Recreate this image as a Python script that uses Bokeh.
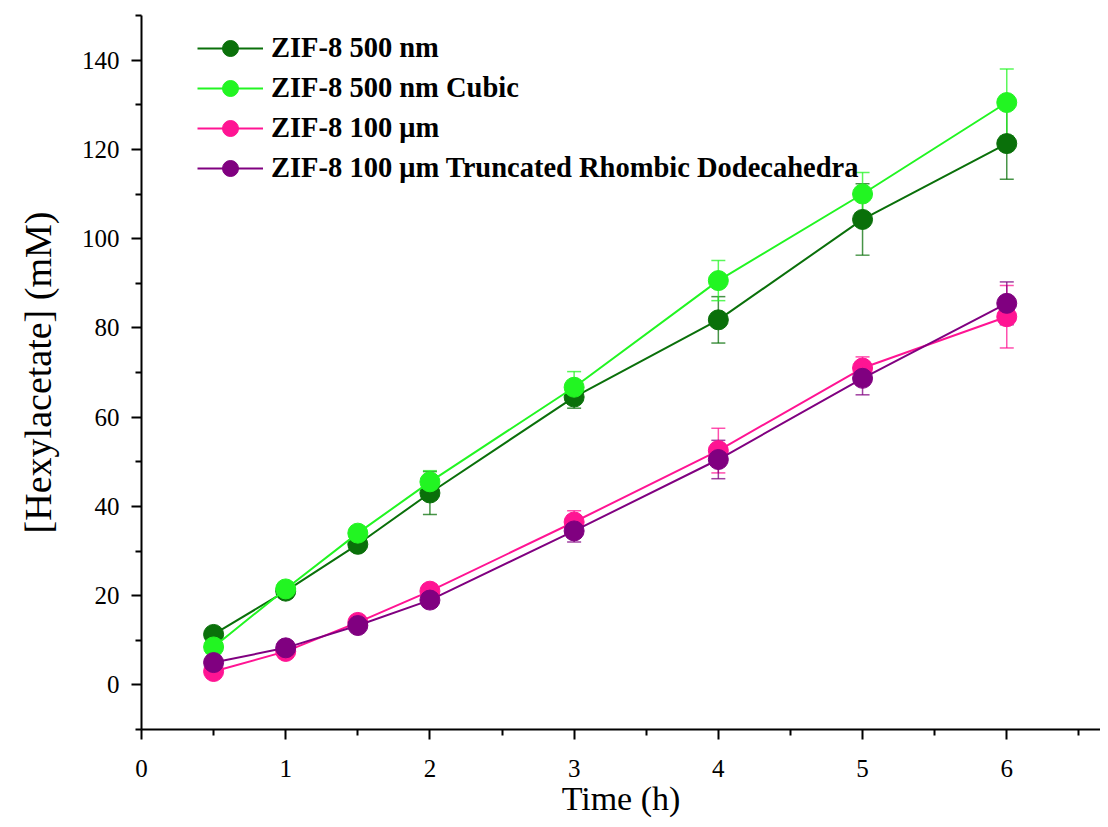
from bokeh.plotting import figure
from bokeh.models import Range1d, Whisker, ColumnDataSource, Legend, LegendItem, TeeHead, FixedTicker
from bokeh.embed import file_html
from bokeh.resources import INLINE

time_h = [0.5, 1, 1.5, 2, 3, 4, 5, 6]
series_names = ["ZIF-8 500 nm", "ZIF-8 500 nm Cubic", "ZIF-8 100 μm",
                "ZIF-8 100 μm Truncated Rhombic Dodecahedra"]
zif500 = [11.3, 21.0, 31.5, 43.0, 64.5, 81.8, 104.3, 121.3]
zif500_err = [1.0, 1.5, 1.5, 4.8, 2.5, 5.2, 8.0, 8.0]
zif500_cubic = [8.5, 21.5, 34.0, 45.5, 66.7, 90.6, 110.0, 130.5]
zif500_cubic_err = [1.0, 1.5, 1.5, 2.5, 3.5, 4.5, 4.8, 7.5]
zif100 = [3.0, 7.5, 14.0, 21.0, 36.5, 52.5, 71.0, 82.5]
zif100_err = [0.8, 1.0, 1.0, 1.5, 2.5, 5.0, 2.5, 7.0]
zif100_trd = [5.0, 8.3, 13.3, 19.0, 34.5, 50.5, 68.7, 85.5]
zif100_trd_err = [0.8, 1.0, 1.0, 1.5, 2.5, 4.3, 3.7, 4.8]
colors = ["#0A700A", "#22F522", "#FF1493", "#800080"]
x_title = "Time (h)"
y_title = "[Hexylacetate] (mM)"

p = figure(width=1100, height=819, output_backend="svg", toolbar_location=None,
           x_range=Range1d(0, 6.65), y_range=Range1d(-10, 150),
           min_border_left=141, min_border_right=0, min_border_top=15, min_border_bottom=90)
p.outline_line_color = None
p.grid.visible = False
p.background_fill_color = "white"

ys = [zif500, zif500_cubic, zif100, zif100_trd]
errs = [zif500_err, zif500_cubic_err, zif100_err, zif100_trd_err]
items = []
for name, y, e, c in zip(series_names, ys, errs, colors):
    src = ColumnDataSource(dict(x=time_h, y=y,
                                lo=[a - b for a, b in zip(y, e)],
                                hi=[a + b for a, b in zip(y, e)]))
    ln = p.line("x", "y", source=src, line_color=c, line_width=2)
    sc = p.scatter("x", "y", source=src, size=20, fill_color=c, line_color=c)
    w = Whisker(source=src, base="x", lower="lo", upper="hi", line_color=c, line_width=1.5, line_alpha=0.75,
                lower_head=TeeHead(size=14, line_color=c, line_width=1.5, line_alpha=0.75),
                upper_head=TeeHead(size=14, line_color=c, line_width=1.5, line_alpha=0.75))
    p.add_layout(w)
    items.append(LegendItem(label=name, renderers=[ln, sc]))

legend = Legend(items=items, location=(56, 541), glyph_width=66, glyph_height=40,
                label_text_font="Liberation Serif", label_text_font_style="bold",
                label_text_color="black",
                label_text_font_size="28.5px", spacing=0, padding=0, margin=0,
                border_line_color=None, background_fill_alpha=0, label_standoff=8)
p.add_layout(legend)

for ax in (p.xaxis, p.yaxis):
    ax.axis_line_width = 2
    ax.axis_line_color = "black"
    ax.major_tick_line_width = 2
    ax.minor_tick_line_width = 2
    ax.major_tick_out = 10
    ax.major_tick_in = 0
    ax.minor_tick_out = 6
    ax.minor_tick_in = 0
    ax.major_label_text_font = "Liberation Serif"
    ax.major_label_text_font_size = "25px"
    ax.major_label_text_color = "black"
    ax.axis_label_text_font = "Liberation Serif"
    ax.axis_label_text_font_style = "normal"
    ax.axis_label_text_color = "black"

p.xaxis.axis_label_text_font_size = "34px"
p.yaxis.axis_label_text_font_size = "38px"
p.xaxis.ticker = FixedTicker(ticks=[0, 1, 2, 3, 4, 5, 6], minor_ticks=[0.5, 1.5, 2.5, 3.5, 4.5, 5.5, 6.5])
p.yaxis.ticker = FixedTicker(ticks=[0, 20, 40, 60, 80, 100, 120, 140],
                             minor_ticks=[-10, 10, 30, 50, 70, 90, 110, 130, 150])
p.xaxis.axis_label = x_title
p.yaxis.axis_label = y_title
p.xaxis.major_label_standoff = 20
p.xaxis.axis_label_standoff = 0
p.yaxis.major_label_standoff = 12
p.yaxis.axis_label_standoff = 20

open("out.html", "w").write(file_html(p, INLINE))
